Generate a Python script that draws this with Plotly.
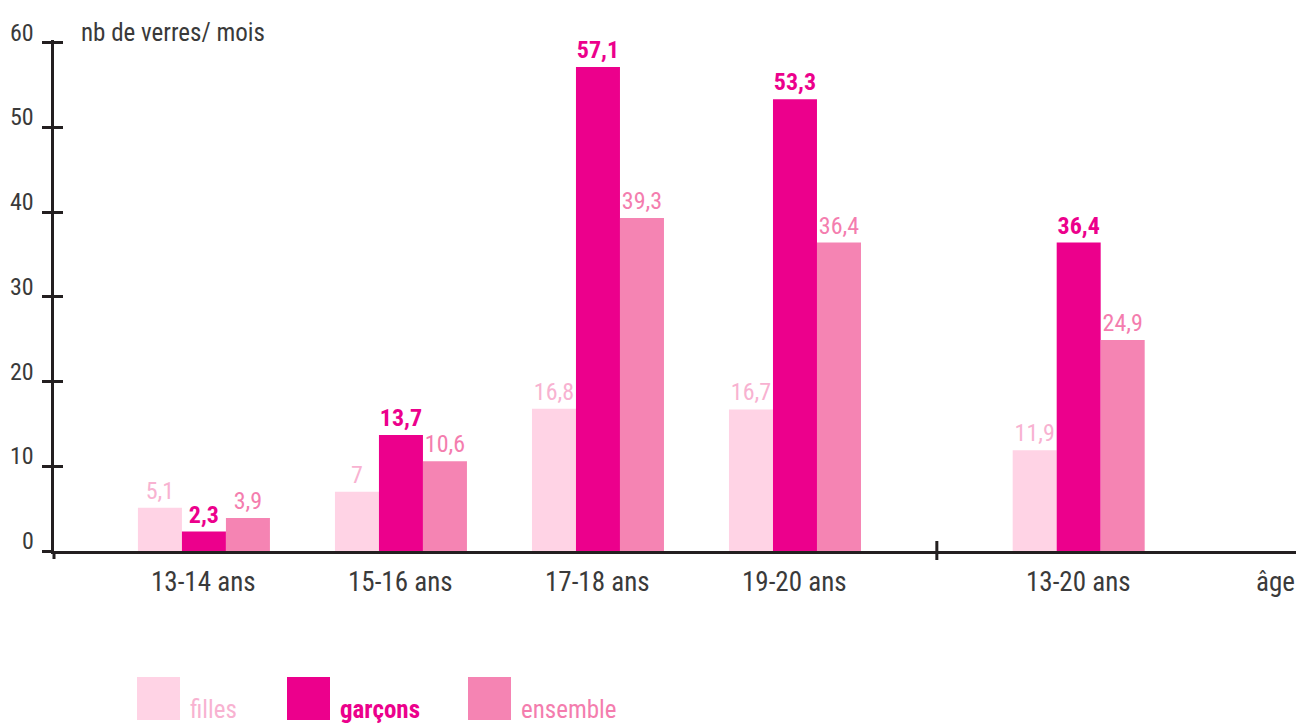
import plotly.graph_objects as go

categories = ["13-14 ans", "15-16 ans", "17-18 ans", "19-20 ans", "13-20 ans"]
group_pos = [0, 1, 2, 3, 4.44]
filles = [5.1, 7, 16.8, 16.7, 11.9]
garcons = [2.3, 13.7, 57.1, 53.3, 36.4]
ensemble = [3.9, 10.6, 39.3, 36.4, 24.9]
series_names = ["filles", "garçons", "ensemble"]
y_ticks = [0, 10, 20, 30, 40, 50, 60]

FONT = "Roboto Condensed, Liberation Sans Narrow, Roboto, sans-serif"
AX = "#231F20"
TXT = "#3a3a3a"
bar_cols = ["#FFD3E5", "#EC008C", "#F584B3"]
lab_cols = ["#F8B2D1", "#EC008C", "#F47DAE"]

# pixel geometry of the plot area
L, R, T, B = 54, 2, 40, 173
W, H = 1298, 724
PW, PH = W - L - R, H - T - B


def px(x):
    return (x - L) / PW


def py(y):
    return (H - B - y) / PH


def fmt(v):
    s = f"{v:g}"
    return s.replace(".", ",")


fig = go.Figure()
for name, vals, bc, lc in zip(series_names, [filles, garcons, ensemble], bar_cols, lab_cols):
    fig.add_trace(go.Bar(
        x=group_pos, y=vals, name=name,
        marker=dict(color=bc, line=dict(width=0)),
        text=[fmt(v) for v in vals], textposition="outside",
        textfont=dict(family=FONT, size=24, color=lc,
                      weight="bold" if name == "garçons" else "normal"),
        constraintext="none", cliponaxis=False, showlegend=False,
    ))

shapes = []
annotations = []

# y-axis extension below zero and separator tick on x axis
shapes.append(dict(type="line", xref="paper", yref="paper", x0=0, x1=0,
                   y0=0, y1=py(559), line=dict(color=AX, width=3)))
shapes.append(dict(type="line", xref="x", yref="paper", x0=3.72, x1=3.72,
                   y0=py(541), y1=py(560), line=dict(color=AX, width=3)))

# y tick labels
for t in y_ticks:
    annotations.append(dict(x=px(36), y=t, xref="paper", yref="y", text=str(t),
                            xanchor="right", yanchor="middle", yshift=10, showarrow=False,
                            font=dict(family=FONT, size=24, color=TXT)))
# y axis title
annotations.append(dict(x=px(79), y=py(32), xref="paper", yref="paper",
                        text="nb de verres/ mois", xanchor="left", yanchor="middle",
                        showarrow=False, font=dict(family=FONT, size=25, color=TXT)))
# x labels
for c, g in zip(categories, group_pos):
    annotations.append(dict(x=g, y=py(582), xref="x", yref="paper", text=c,
                            xanchor="center", yanchor="middle", showarrow=False,
                            font=dict(family=FONT, size=27, color=TXT)))
annotations.append(dict(x=px(1297), y=py(582), xref="paper", yref="paper", text="âge",
                        xanchor="right", yanchor="middle", showarrow=False,
                        font=dict(family=FONT, size=27, color=TXT)))

# custom legend
leg_sq = [137, 287, 468]
for name, x0, bc, lc in zip(series_names, leg_sq, bar_cols, lab_cols):
    shapes.append(dict(type="rect", xref="paper", yref="paper",
                       x0=px(x0), x1=px(x0 + 43), y0=py(677), y1=py(720),
                       fillcolor=bc, line=dict(width=0)))
    annotations.append(dict(x=px(x0 + 51), y=py(709), xref="paper", yref="paper",
                            text=name, xanchor="left", yanchor="middle", showarrow=False,
                            font=dict(family=FONT, size=25, color=lc,
                                      weight="bold" if name == "garçons" else "normal")))

fig.update_layout(
    width=W, height=H, autosize=False,
    margin=dict(l=L, r=R, t=T, b=B, pad=0),
    paper_bgcolor="white", plot_bgcolor="white",
    barmode="group", bargap=0.33, bargroupgap=0,
    shapes=shapes, annotations=annotations,
    xaxis=dict(range=[-0.761, 5.543], showgrid=False, zeroline=False,
               showline=True, linecolor=AX, linewidth=3, ticks="",
               showticklabels=False, fixedrange=True),
    yaxis=dict(range=[0, 60.3], showgrid=False, zeroline=False,
               showline=True, linecolor=AX, linewidth=3,
               tickvals=y_ticks, ticks="outside", ticklen=9, tickwidth=3,
               tickcolor=AX, showticklabels=False, fixedrange=True),
    yaxis2=dict(range=[0, 60.3], overlaying="y", side="left", showgrid=False,
                zeroline=False, showline=False, tickvals=y_ticks, ticks="inside",
                ticklen=9, tickwidth=3, tickcolor=AX, showticklabels=False,
                fixedrange=True),
)
# invisible trace so the inner tick axis is drawn
fig.add_trace(go.Scatter(x=[group_pos[0]], y=[0], yaxis="y2", mode="markers",
                         marker=dict(opacity=0), showlegend=False, hoverinfo="skip"))

fig.write_html("out.html")
